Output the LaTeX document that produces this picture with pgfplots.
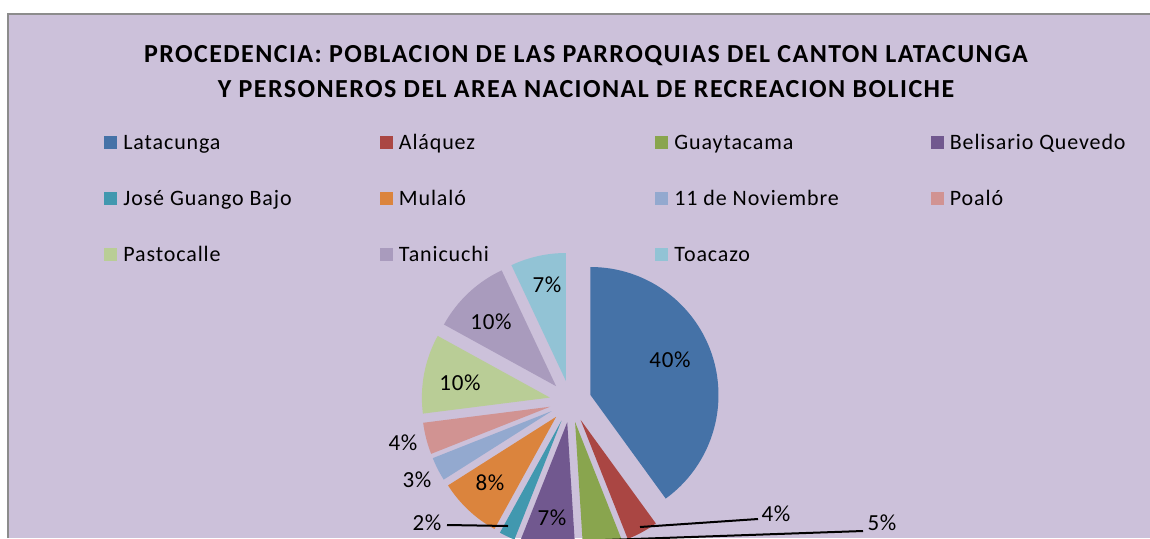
\documentclass[border=0pt]{standalone}
\usepackage{fontspec}
\setmainfont{Carlito}
\usepackage{pgfplots}
\pgfplotsset{compat=1.18}
\usepackage{pgfplotstable}

\definecolor{bgc}{HTML}{CCC1DA}
\definecolor{bordc}{HTML}{8C8C8C}
\definecolor{c1}{HTML}{4572A7}
\definecolor{c2}{HTML}{AA4643}
\definecolor{c3}{HTML}{89A54E}
\definecolor{c4}{HTML}{71588F}
\definecolor{c5}{HTML}{4198AF}
\definecolor{c6}{HTML}{DB843D}
\definecolor{c7}{HTML}{93A9CF}
\definecolor{c8}{HTML}{D19392}
\definecolor{c9}{HTML}{B9CD96}
\definecolor{c10}{HTML}{A99BBD}
\definecolor{c11}{HTML}{92C3D5}

% name, value (%), colour, label position (x, y in pixels from top-left)
\pgfplotstableread[col sep=comma]{
name,value,color,lx,ly
Latacunga,40,c1,670,360
Aláquez,4,c2,776,514
Guaytacama,5,c3,882,523
Belisario Quevedo,7,c4,552,518
José Guango Bajo,2,c5,427,523
Mulaló,8,c6,490,483
11 de Noviembre,3,c7,417,480
Poaló,4,c8,403,443
Pastocalle,10,c9,460,383
Tanicuchi,10,c10,491,322
Toacazo,7,c11,547,285
}\piedata

\newcommand\legfont{\fontsize{11}{13}\selectfont\addfontfeature{LetterSpace=4}}
\newcommand\labfont{\fontsize{11.5}{13}\selectfont\addfontfeature{LetterSpace=3}}
\newcommand\titfont{\bfseries\fontsize{13}{17.5}\selectfont\addfontfeature{LetterSpace=5.5}}

\begin{document}
\begin{tikzpicture}
\begin{axis}[
  width=575pt, height=269pt, scale only axis,
  xmin=0, xmax=1150, ymin=0, ymax=538,
  hide axis, clip=true,
]
\fill[white] (axis cs:0,0) rectangle (axis cs:1150,538);
\fill[bgc] (axis cs:7,0) rectangle (axis cs:1150,525);
\draw[bordc, line width=1pt] (axis cs:7.5,0) -- (axis cs:7.5,524.5) -- (axis cs:1150,524.5);

% title
\node[font=\titfont, align=center, text=black]
  at (axis cs:586,466) {PROCEDENCIA: POBLACION DE LAS PARROQUIAS DEL CANTON LATACUNGA\\
  Y PERSONEROS DEL AREA NACIONAL DE RECREACION BOLICHE};

% pie slices, labels and legend
\gdef\cum{0}
\pgfplotsforeachungrouped \i in {0,...,10}{%
  \pgfplotstablegetelem{\i}{value}\of\piedata \let\slval\pgfplotsretval
  \pgfplotstablegetelem{\i}{color}\of\piedata \let\slcol\pgfplotsretval
  \pgfplotstablegetelem{\i}{name}\of\piedata \let\slname\pgfplotsretval
  \pgfplotstablegetelem{\i}{lx}\of\piedata \let\sllx\pgfplotsretval
  \pgfplotstablegetelem{\i}{ly}\of\piedata \let\slly\pgfplotsretval
  \pgfmathsetmacro\sa{90-3.6*\cum}%
  \pgfmathsetmacro\ea{90-3.6*(\cum+\slval)}%
  \pgfmathsetmacro\ma{(\sa+\ea)/2}%
  \pgfmathsetmacro\sx{570.5+21*cos(\ma)}%
  \pgfmathsetmacro\sy{136.5+21*sin(\ma)}%
  \pgfmathsetmacro\cum{\cum+\slval}%
  \pgfmathsetmacro\laby{538-\slly}%
  % legend position
  \pgfmathtruncatemacro\lc{mod(\i,4)}%
  \pgfmathtruncatemacro\lr{floor(\i/4)}%
  \pgfmathsetmacro\lgx{104+275.5*\lc}%
  \pgfmathsetmacro\lgxb{\lgx+13}%
  \pgfmathsetmacro\lgxt{\lgx+19}%
  \pgfmathsetmacro\lgy{538-142-56*\lr}%
  \pgfmathsetmacro\lgya{\lgy-6.5}%
  \pgfmathsetmacro\lgyb{\lgy+6.5}%
  \pgfmathsetmacro\lgyt{\lgy-7}%
  \edef\cmd{%
    \noexpand\fill[\slcol] (axis cs:\sx,\sy) -- ++(\sa:64pt)
      arc[start angle=\sa, end angle=\ea, radius=64pt] -- cycle;
    \noexpand\node[font=\noexpand\labfont, text=black] at (axis cs:\sllx,\laby) {\slval\noexpand\%};
    \noexpand\fill[\slcol] (axis cs:\lgx,\lgya) rectangle (axis cs:\lgxb,\lgyb);
    \noexpand\node[font=\noexpand\legfont, text=black, anchor=base west, inner sep=0pt] at (axis cs:\lgxt,\lgyt) {\slname};
  }%
  \cmd
}

% leader lines for the small outside labels
\addplot[black, line width=1pt, no marks] coordinates {(640,11) (758,19)};
\addplot[black, line width=1pt, no marks] coordinates {(605,-2) (863,7)};
\addplot[black, line width=1pt, no marks] coordinates {(447,13) (508,12)};
\end{axis}
\end{tikzpicture}
\end{document}
